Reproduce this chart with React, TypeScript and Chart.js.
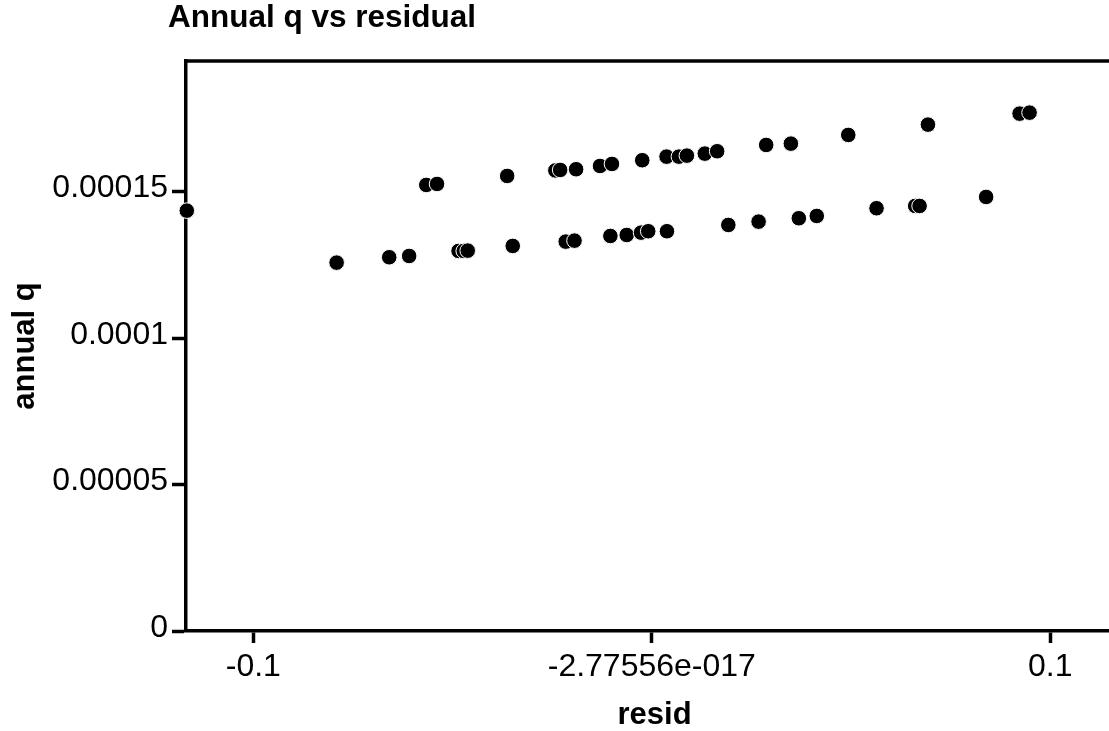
import React, { useEffect, useRef } from "react";
import { Chart, registerables } from "chart.js";

Chart.register(...registerables);

// Residuals (x) and annual q (y), upper band of observations
const upperResid = [
  -0.0566, -0.0539, -0.0363, -0.0242, -0.0230, -0.0190, -0.0130, -0.0100,
  -0.0024, 0.0037, 0.0068, 0.0088, 0.0133, 0.0164, 0.0287, 0.0349, 0.0493,
  0.0693, 0.0923, 0.0948,
];
const upperQ = [
  1.5229e-4, 1.5263e-4, 1.5536e-4, 1.5724e-4, 1.5741e-4, 1.5765e-4, 1.5877e-4,
  1.5946e-4, 1.6072e-4, 1.6195e-4, 1.6195e-4, 1.6229e-4, 1.6298e-4, 1.6379e-4,
  1.6594e-4, 1.6639e-4, 1.6936e-4, 1.7288e-4, 1.7663e-4, 1.7697e-4,
];

// Lower band of observations
const lowerResid = [
  -0.1167, -0.0791, -0.0659, -0.0609, -0.0485, -0.0472, -0.0462, -0.0349,
  -0.0216, -0.0194, -0.0104, -0.0063, -0.0027, -0.0009, 0.0038, 0.0192,
  0.0268, 0.0369, 0.0414, 0.0564, 0.0661, 0.0672, 0.0839,
];
const lowerQ = [
  1.4351e-4, 1.2576e-4, 1.2760e-4, 1.2804e-4, 1.2975e-4, 1.2975e-4, 1.2986e-4,
  1.3146e-4, 1.3293e-4, 1.3327e-4, 1.3487e-4, 1.3521e-4, 1.3600e-4, 1.3648e-4,
  1.3648e-4, 1.3863e-4, 1.3976e-4, 1.4092e-4, 1.4170e-4, 1.4433e-4, 1.4512e-4,
  1.4512e-4, 1.4819e-4,
];

// Axis ticks and their printed labels
const xTickValues = [-0.1, 0, 0.1];
const xTickLabels = ["-0.1", "-2.77556e-017", "0.1"];
const yTickValues = [0, 0.00005, 0.0001, 0.00015];
const yTickLabels = ["0", "0.00005", "0.0001", "0.00015"];

const chartTitle = "Annual q vs residual";
const xTitle = "resid";
const yTitle = "annual q";

const FONT = "'Liberation Sans', Arial, Helvetica, sans-serif";
const LINE_W = 3.5;

const frameAndTitle = {
  id: "frameAndTitle",
  afterDraw(chart: any) {
    const { ctx, chartArea } = chart;
    ctx.save();
    // top frame line
    ctx.strokeStyle = "#000";
    ctx.lineWidth = LINE_W;
    ctx.beginPath();
    ctx.moveTo(chartArea.left - LINE_W / 2, chartArea.top);
    ctx.lineTo(chartArea.right, chartArea.top);
    ctx.stroke();
    // chart heading
    ctx.fillStyle = "#000";
    ctx.font = `bold 31.5px ${FONT}`;
    ctx.textAlign = "left";
    ctx.textBaseline = "alphabetic";
    ctx.fillText(chartTitle, chartArea.left - 18, 27);
    ctx.restore();
  },
};

export default function App() {
  const ref = useRef<HTMLCanvasElement | null>(null);

  useEffect(() => {
    if (!ref.current) return;
    const toPoints = (xs: number[], ys: number[]) =>
      xs.map((x, i) => ({ x, y: ys[i] }));
    const pointStyle = {
      backgroundColor: "#000",
      borderColor: "#fff",
      borderWidth: 1,
      pointRadius: 7.8,
      pointHoverRadius: 7.8,
      showLine: false,
      clip: false as any,
    };
    const chart = new Chart(ref.current, {
      type: "scatter",
      data: {
        datasets: [
          { label: "lower", data: toPoints(lowerResid, lowerQ), ...pointStyle },
          { label: "upper", data: toPoints(upperResid, upperQ), ...pointStyle },
        ],
      },
      options: {
        animation: false,
        responsive: false,
        devicePixelRatio: 1,
        layout: { padding: { top: 61, left: 0, right: 0, bottom: 0 } },
        plugins: {
          legend: { display: false },
          title: { display: false },
          tooltip: { enabled: false },
        },
        scales: {
          x: {
            type: "linear",
            min: -0.1169,
            max: 0.1183,
            afterBuildTicks: (s: any) => {
              s.ticks = xTickValues.map((v) => ({ value: v }));
            },
            afterFit: (s: any) => {
              s.height = 100;
            },
            border: { display: true, color: "#000", width: LINE_W },
            grid: {
              display: true,
              drawOnChartArea: false,
              drawTicks: true,
              tickLength: 12,
              tickWidth: LINE_W,
              tickColor: "#000",
              color: "#000",
            },
            ticks: {
              autoSkip: false,
              maxRotation: 0,
              padding: 5,
              color: "#000",
              font: { family: FONT, size: 32 },
              callback: (_v: any, i: number) => xTickLabels[i],
            },
            title: {
              display: true,
              text: xTitle,
              color: "#000",
              font: { family: FONT, size: 31, weight: "bold", lineHeight: 1 },
              padding: { top: 0, bottom: 0 },
            },
          },
          y: {
            type: "linear",
            min: 0,
            max: 0.0001946,
            afterBuildTicks: (s: any) => {
              s.ticks = yTickValues.map((v) => ({ value: v }));
            },
            afterFit: (s: any) => {
              s.width = 186;
            },
            border: { display: true, color: "#000", width: LINE_W },
            grid: {
              display: true,
              drawOnChartArea: false,
              drawTicks: true,
              tickLength: 14,
              tickWidth: LINE_W,
              tickColor: "#000",
              color: "#000",
            },
            ticks: {
              autoSkip: false,
              padding: 4,
              labelOffset: -3,
              color: "#000",
              font: { family: FONT, size: 32 },
              callback: (_v: any, i: number) => yTickLabels[i],
            },
            title: {
              display: true,
              text: yTitle,
              color: "#000",
              font: { family: FONT, size: 31, weight: "bold", lineHeight: 1 },
              padding: { top: 10, bottom: 0 },
            },
          },
        },
      },
      plugins: [frameAndTitle],
    });
    return () => chart.destroy();
  }, []);

  return (
    <div
      style={{
        position: "absolute",
        left: 0,
        top: 0,
        width: 1109,
        height: 731,
        overflow: "hidden",
        background: "#fff",
      }}
    >
      <canvas ref={ref} width={1132} height={731} style={{ display: "block" }} />
    </div>
  );
}
